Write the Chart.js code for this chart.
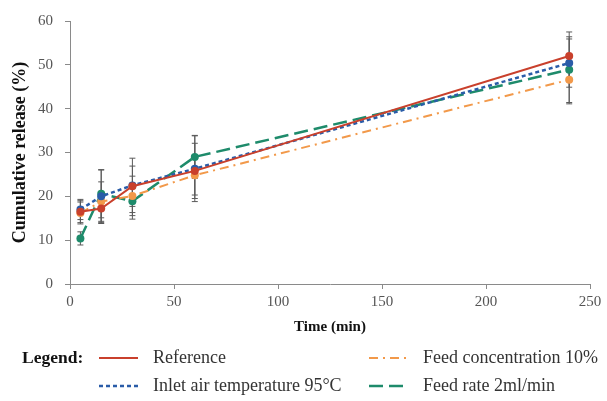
<!DOCTYPE html>
<html>
<head>
<meta charset="utf-8">
<title>Cumulative release</title>
<script src="https://cdn.jsdelivr.net/npm/chart.js@4.4.1/dist/chart.umd.min.js"></script>
<style>
body{margin:0;background:#fff;}
canvas{display:block;}
</style>
</head>
<body>
<canvas id="release" width="607" height="401"></canvas>
<script>
// sampling times (min)
const times = [5, 15, 30, 60, 240];

// cumulative release (%) and standard deviations
const reference = [16.5, 17.2, 22.3, 25.8, 52.0];
const referenceErr = [2.5, 3.4, 4.6, 6.3, 5.5];

const inletAir = [17.0, 20.0, 22.5, 26.3, 50.4];
const inletAirErr = [2.3, 6.0, 6.2, 7.5, 5.5];

const feedConc = [16.2, 18.8, 20.1, 24.8, 46.6];
const feedConcErr = [2.5, 4.5, 4.5, 4.5, 5.5];

const feedRate = [10.4, 20.6, 18.9, 29.0, 48.9];
const feedRateErr = [1.5, 5.5, 4.1, 4.9, 7.5];

const xTicks = [0, 50, 100, 150, 200, 250];
const yTicks = [0, 10, 20, 30, 40, 50, 60];

const serif = '"Liberation Serif", "Times New Roman", serif';

function pts(ys){
  return times.map((t,i)=>({x:t, y:ys[i]}));
}

const series = [
  {label:'Reference', data:reference, err:referenceErr, color:'#c9402c', dash:[], width:2},
  {label:'Inlet air temperature 95°C', data:inletAir, err:inletAirErr, color:'#2a5ca8', dash:[4,3], width:2.5},
  {label:'Feed concentration 10%', data:feedConc, err:feedConcErr, color:'#f2994a', dash:[9,5,2,5], width:2},
  {label:'Feed rate 2ml/min', data:feedRate, err:feedRateErr, color:'#1e8b6b', dash:[14,6], width:2.5}
];

// vertical error bars with caps, drawn under the lines
const errorBars = {
  id:'errorBars',
  beforeDatasetsDraw(chart){
    const {ctx, scales:{x, y}} = chart;
    ctx.save();
    ctx.strokeStyle = '#5a5a5a';
    ctx.lineWidth = 1;
    series.forEach(s=>{
      times.forEach((t,i)=>{
        const px = x.getPixelForValue(t);
        const top = y.getPixelForValue(s.data[i] + s.err[i]);
        const bot = y.getPixelForValue(s.data[i] - s.err[i]);
        ctx.beginPath();
        ctx.moveTo(px, top); ctx.lineTo(px, bot);
        ctx.moveTo(px-3, top); ctx.lineTo(px+3, top);
        ctx.moveTo(px-3, bot); ctx.lineTo(px+3, bot);
        ctx.stroke();
      });
    });
    ctx.restore();
  }
};

// legend block under the x axis title
const legendBlock = {
  id:'legendBlock',
  afterDraw(chart){
    const ctx = chart.ctx;
    ctx.save();
    ctx.textBaseline = 'middle';
    ctx.fillStyle = '#111';
    ctx.font = 'bold 17.5px ' + serif;
    ctx.fillText('Legend:', 22, 358);
    const slots = [
      {s:series[0], x:99, y:358},
      {s:series[2], x:369, y:358},
      {s:series[1], x:99, y:386},
      {s:series[3], x:369, y:386}
    ];
    ctx.font = '18px ' + serif;
    slots.forEach(k=>{
      ctx.strokeStyle = k.s.color;
      ctx.lineWidth = k.s.width;
      ctx.setLineDash(k.s.dash);
      ctx.beginPath();
      ctx.moveTo(k.x, k.y); ctx.lineTo(k.x+39, k.y);
      ctx.stroke();
      ctx.setLineDash([]);
      ctx.fillStyle = '#333';
      ctx.fillText(k.s.label, k.x+54, k.y);
    });
    ctx.restore();
  }
};

new Chart(document.getElementById('release'), {
  type:'line',
  data:{
    datasets: series.map(s=>({
      label:s.label,
      data:pts(s.data),
      borderColor:s.color,
      backgroundColor:s.color,
      borderWidth:s.width,
      borderDash:s.dash,
      pointRadius:4,
      pointBorderWidth:0,
      pointBackgroundColor:s.color,
      tension:0,
      fill:false
    }))
  },
  options:{
    responsive:false,
    devicePixelRatio:1,
    animation:false,
    layout:{padding:{top:21, right:17, bottom:61, left:0}},
    plugins:{legend:{display:false}, tooltip:{enabled:false}},
    scales:{
      x:{
        type:'linear', min:0, max:250,
        afterBuildTicks(sc){ sc.ticks = xTicks.map(v=>({value:v})); },
        afterFit(sc){ sc.height = 56; },
        grid:{drawOnChartArea:false, tickLength:5, color:'#8a8a8a'},
        border:{color:'#8a8a8a', width:1},
        ticks:{color:'#555', font:{family:serif, size:15}, padding:4, maxRotation:0},
        title:{display:true, text:'Time (min)', color:'#111', font:{family:serif, size:15, weight:'bold'}, padding:{top:0, bottom:4}}
      },
      y:{
        min:0, max:60,
        afterBuildTicks(sc){ sc.ticks = yTicks.map(v=>({value:v})); },
        afterFit(sc){ sc.width = 70; },
        grid:{drawOnChartArea:false, tickLength:5, color:'#8a8a8a'},
        border:{color:'#8a8a8a', width:1},
        ticks:{color:'#555', font:{family:serif, size:15}, padding:12},
        title:{display:true, text:'Cumulative release (%)', color:'#111', font:{family:serif, size:18, weight:'bold'}, padding:{top:10, bottom:0}}
      }
    }
  },
  plugins:[errorBars, legendBlock]
});
</script>
</body>
</html>
